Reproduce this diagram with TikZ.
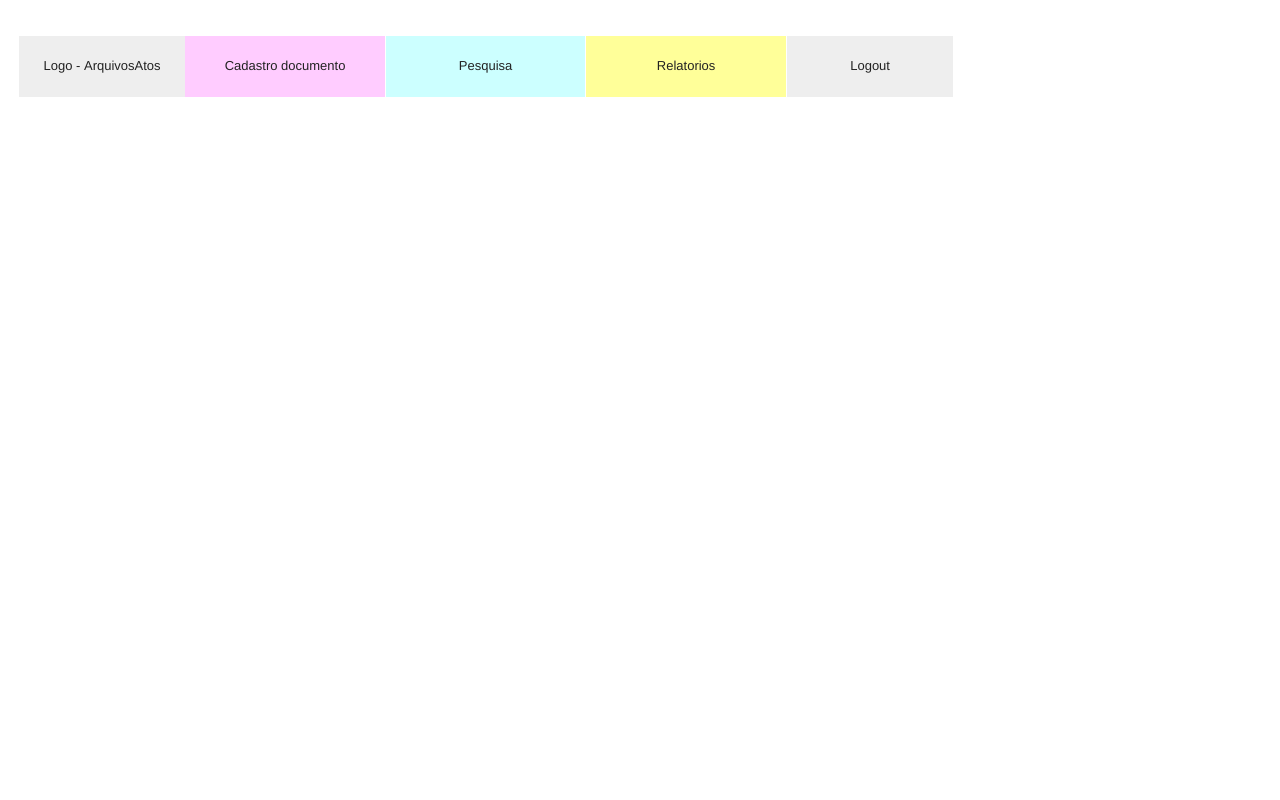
\documentclass[tikz,border=0pt]{standalone}
\usepackage{fontspec}
\setmainfont{Liberation Sans}
\definecolor{cgray}{HTML}{EEEEEE}
\definecolor{cpink}{HTML}{FFCCFF}
\definecolor{ccyan}{HTML}{CCFFFF}
\definecolor{cyel}{HTML}{FFFF99}
\definecolor{ctext}{HTML}{222222}
\begin{document}
\begin{tikzpicture}[x=1pt,y=-1pt,
  tab/.style={draw=none,inner sep=0pt,minimum height=61pt,anchor=north west,
    text height=9.4pt,text depth=2.6pt,
    text=ctext,font=\fontsize{13}{15}\selectfont}]
\useasboundingbox[fill=white] (0,0) rectangle (1280,800);
\node[tab,fill=cgray,minimum width=166pt] (logo) at (19,36) {Logo - ArquivosAtos};
\node[tab,fill=cpink,minimum width=200pt] (cad) at (185,36) {Cadastro documento};
\node[tab,fill=ccyan,minimum width=199pt] (pesq) at (386,36) {Pesquisa};
\node[tab,fill=cyel,minimum width=200pt] (rel) at (586,36) {Relatorios};
\node[tab,fill=cgray,minimum width=166pt] (logout) at (787,36) {Logout};
\end{tikzpicture}
\end{document}
